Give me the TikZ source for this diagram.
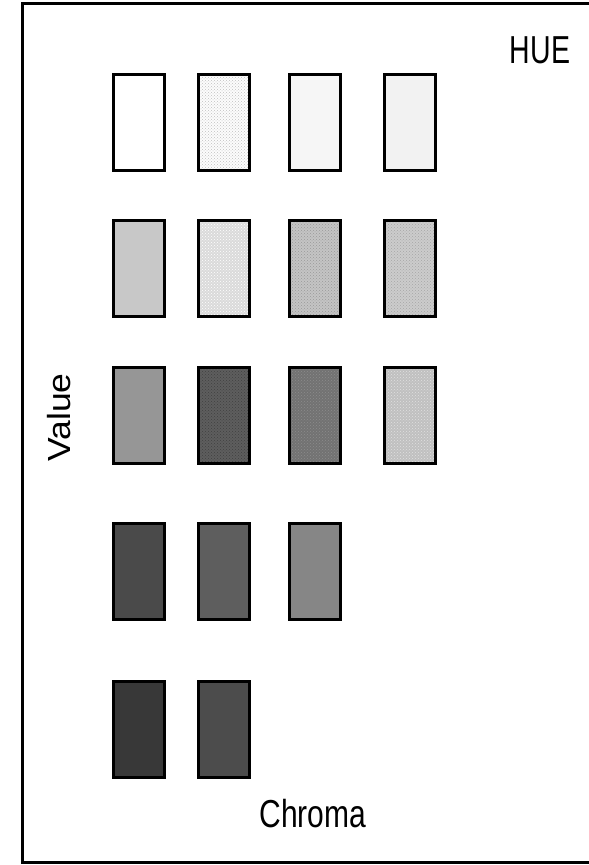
\documentclass[tikz,border=0pt]{standalone}
\usepackage{fontspec}
\setmainfont{Liberation Sans}
\usetikzlibrary{patterns}
\definecolor{cA}{HTML}{FFFFFF}
\definecolor{cB}{HTML}{FCFCFC}
\definecolor{cC}{HTML}{F6F6F6}
\definecolor{cD}{HTML}{F2F2F2}
\definecolor{cE}{HTML}{C8C8C8}
\definecolor{cF}{HTML}{DADADA}
\definecolor{cG}{HTML}{C4C4C4}
\definecolor{cH}{HTML}{CCCCCC}
\definecolor{cI}{HTML}{969696}
\definecolor{cJ}{HTML}{5E5E5E}
\definecolor{cK}{HTML}{727272}
\definecolor{cL}{HTML}{C0C0C0}
\definecolor{cM}{HTML}{4A4A4A}
\definecolor{cN}{HTML}{5E5E5E}
\definecolor{cO}{HTML}{868686}
\definecolor{cP}{HTML}{383838}
\definecolor{cQ}{HTML}{4C4C4C}
\tikzset{
  swatch/.style={draw=black, line width=3pt, minimum width=51pt, minimum height=96pt, inner sep=0pt},
  dotted swatch/.style 2 args={swatch, preaction={fill=#1}, pattern=crosshatch dots, pattern color=#2},
  label text/.style={font=\fontsize{30}{30}\selectfont, inner sep=0pt}
}
\begin{document}
\begin{tikzpicture}[x=1pt,y=-1pt]
\useasboundingbox (0,0) rectangle (589,865);
\fill[white] (0,0) rectangle (589,865);
\begin{scope}
\clip (0,0) rectangle (589,865);
\draw[line width=3pt] (22,3) rectangle (610,862);
\end{scope}
% row 1
\node[swatch, fill=cA] (r1c1) at (139,122.5) {};
\node[dotted swatch={cB}{black!25}] (r1c2) at (223.5,122.5) {};
\node[swatch, fill=cC] (r1c3) at (315,122.5) {};
\node[swatch, fill=cD] (r1c4) at (410,122.5) {};
% row 2
\node[swatch, fill=cE] (r2c1) at (139,268.5) {};
\node[dotted swatch={cF}{white}] (r2c2) at (223.5,268.5) {};
\node[dotted swatch={cG}{black!40}] (r2c3) at (315,268.5) {};
\node[dotted swatch={cH}{black!35}] (r2c4) at (410,268.5) {};
% row 3
\node[swatch, fill=cI] (r3c1) at (139,415) {};
\node[dotted swatch={cJ}{black!75}] (r3c2) at (223.5,415) {};
\node[dotted swatch={cK}{black!45}] (r3c3) at (315,415) {};
\node[dotted swatch={cL}{black!12}] (r3c4) at (410,415) {};
% row 4
\node[swatch, fill=cM] (r4c1) at (139,571.5) {};
\node[swatch, fill=cN] (r4c2) at (223.5,571.5) {};
\node[swatch, fill=cO] (r4c3) at (315,571.5) {};
% row 5
\node[swatch, fill=cP] (r5c1) at (139,729.5) {};
\node[swatch, fill=cQ] (r5c2) at (223.5,729.5) {};
% labels
\node[label text, anchor=base] (hue) at (540,63) {\scalebox{0.95}[1.3]{HUE}};
\node[label text, anchor=base] (chroma) at (313,827) {\scalebox{1}[1.3]{Chroma}};
\node[label text, anchor=base, rotate=90, font=\fontsize{32}{32}\selectfont] (value) at (70,417.5) {\scalebox{1.11}[1]{Value}};
\end{tikzpicture}
\end{document}
